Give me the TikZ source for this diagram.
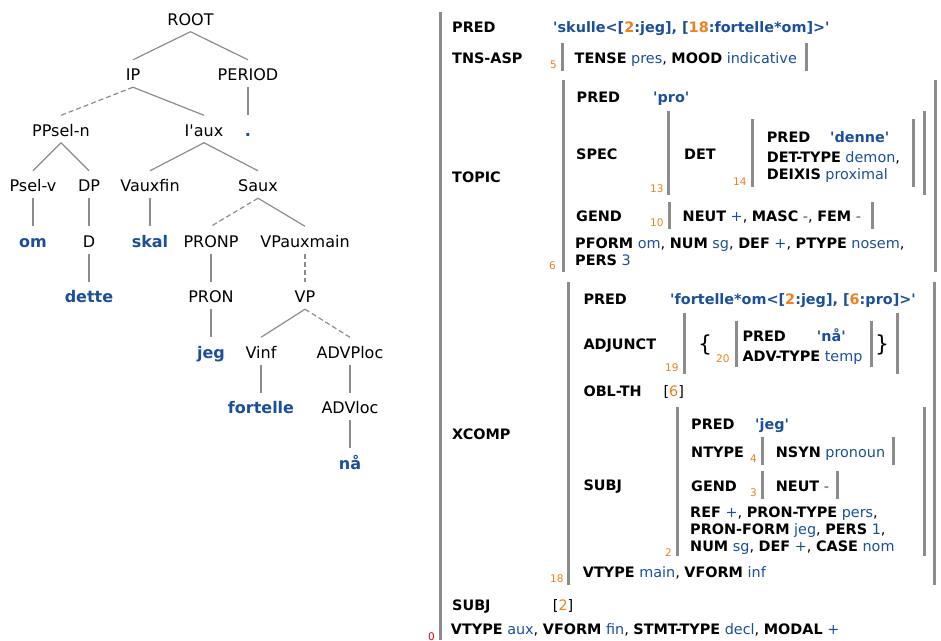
\documentclass[tikz,border=0pt]{standalone}
\usepackage{fontspec}
\setmainfont{DejaVu Sans}[Ligatures=TeXOff]
\usepackage{xcolor}
\usepackage{tikz}
\usetikzlibrary{positioning}

\definecolor{lfgblue}{HTML}{1B4F9C}
\definecolor{lfgorange}{HTML}{F07F1E}
\definecolor{lfggray}{HTML}{8C8C8C}
\definecolor{lfgred}{HTML}{E00000}

\newcommand{\fatt}[1]{\textbf{#1}}
\newcommand{\fval}[1]{\textcolor{lfgblue}{#1}}
\newcommand{\fsem}[1]{\textcolor{lfgblue}{\textbf{#1}}}
\newcommand{\fnum}[1]{\textcolor{lfgorange}{#1}}

\begin{document}
\begin{tikzpicture}[
	x = 1pt, y = -1pt,
	on grid,
	cat/.style = {inner xsep=0pt, inner ysep=6.15pt, text height=14.7pt, text depth=0pt, font=\fontsize{16}{19}\selectfont},
	word/.style = {cat, text=lfgblue, font=\fontsize{16}{19}\selectfont\bfseries},
	every edge/.style = {draw=lfggray, line width=1.2pt},
	elided/.style = {dash pattern=on 5pt off 3pt},
	fs/.style = {anchor=base west, inner sep=0pt, font=\fontsize{14.4}{17}\selectfont},
	idx/.style = {anchor=base west, inner sep=0pt, text=lfgorange, font=\fontsize{10.5}{12}\selectfont},
	brace/.style = {inner sep=0pt, font=\fontsize{22}{26}\selectfont},
	fbar/.style = {draw=lfggray, line width=3pt}
	]
	\useasboundingbox (0,0) rectangle (941,640);

	% c-structure
	\node[cat] (ROOT) at (190.5,18) {ROOT};
	\node[cat] (IP) [below left=55.5pt and 57.5pt of ROOT] {IP};
	\node[cat] (PERIOD) [below right=55.5pt and 57.5pt of ROOT] {PERIOD};
	\node[cat] (PPseln) [below left=55.5pt and 72pt of IP] {PPsel-n};
	\node[cat] (Iaux) [below right=55.5pt and 71pt of IP] {I'aux};
	\node[word] (dot) [below=55.5pt of PERIOD] {.};
	\node[cat] (Pselv) [below left=55.5pt and 28pt of PPseln] {Psel-v};
	\node[cat] (DP) [below right=55.5pt and 28pt of PPseln] {DP};
	\node[cat] (Vauxfin) [below left=55.5pt and 54pt of Iaux] {Vauxfin};
	\node[cat] (Saux) [below right=55.5pt and 54pt of Iaux] {Saux};
	\node[word] (om) [below=55.5pt of Pselv] {om};
	\node[cat] (D) [below=55.5pt of DP] {D};
	\node[word] (skal) [below=55.5pt of Vauxfin] {skal};
	\node[cat] (PRONP) [below left=55.5pt and 47pt of Saux] {PRONP};
	\node[cat] (VPauxmain) [below right=55.5pt and 47pt of Saux] {VPauxmain};
	\node[word] (dette) [below=55.5pt of D] {dette};
	\node[cat] (PRON) [below=55.5pt of PRONP] {PRON};
	\node[cat] (VP) [below=55.5pt of VPauxmain] {VP};
	\node[word] (jeg) [below=55.5pt of PRON] {jeg};
	\node[cat] (Vinf) [below left=55.5pt and 44pt of VP] {Vinf};
	\node[cat] (ADVPloc) [below right=55.5pt and 45pt of VP] {ADVPloc};
	\node[word] (fortelle) [below=55.5pt of Vinf] {fortelle};
	\node[cat] (ADVloc) [below=55.5pt of ADVPloc] {ADVloc};
	\node[word] (naa) [below=55.5pt of ADVloc] {nå};

	\path
	(ROOT.south) edge (IP.north)
	(ROOT.south) edge (PERIOD.north)
	(IP.south) edge[elided] (PPseln.north)
	(IP.south) edge (Iaux.north)
	(PERIOD.south) edge (dot.north)
	(PPseln.south) edge (Pselv.north)
	(PPseln.south) edge (DP.north)
	(Iaux.south) edge (Vauxfin.north)
	(Iaux.south) edge (Saux.north)
	(Pselv.south) edge (om.north)
	(DP.south) edge (D.north)
	(Vauxfin.south) edge (skal.north)
	(Saux.south) edge[elided] (PRONP.north)
	(Saux.south) edge (VPauxmain.north)
	(D.south) edge (dette.north)
	(PRONP.south) edge (PRON.north)
	(VPauxmain.south) edge[elided] (VP.north)
	(PRON.south) edge (jeg.north)
	(VP.south) edge (Vinf.north)
	(VP.south) edge[elided] (ADVPloc.north)
	(Vinf.south) edge (fortelle.north)
	(ADVPloc.south) edge (ADVloc.north)
	(ADVloc.south) edge (naa.north);

	% f-structure brackets
	\foreach \x/\ya/\yb in {440.5/11.7/640, 562/43/71, 806/43/71, 563/80/272, 935/80/272,
		668.5/111/195, 924/111/195, 752/119/187, 913/119/187, 669/201.7/229.3, 872.5/201.7/229.3,
		568.5/281.7/585, 934/281.7/585, 684.5/312.7/374, 897/312.7/374, 736/320.7/366.7, 871/320.7/366.7,
		677/407/556, 924.3/407/556, 762.5/437.3/465, 893.3/437.3/465, 762.5/470.7/499.3, 837.3/470.7/499.3}
		\draw[fbar] (\x,\ya) -- (\x,\yb);

	% outer f-structure
	\node[fs] (pred0) at (452,32.3) {\fatt{PRED}};
	\node[fs] (pred0v) at (553,32.3) {\fsem{'skulle<[\fnum{2}:jeg], [\fnum{18}:fortelle*om]>'}};
	\node[fs] (tns) at (452,63.3) {\fatt{TNS-ASP}};
	\node[idx] (i5) at (550,68) {5};
	\node[fs] (tnsv) at (574.5,63.3) {\fatt{TENSE} \fval{pres}, \fatt{MOOD} \fval{indicative}};

	% TOPIC
	\node[fs] (topic) at (452,182.3) {\fatt{TOPIC}};
	\node[idx] (i6) at (549,269.3) {6};
	\node[fs] (tpred) at (576.5,102.7) {\fatt{PRED}};
	\node[fs] (tpredv) at (653,102.7) {\fsem{'pro'}};
	\node[fs] (spec) at (576,159.3) {\fatt{SPEC}};
	\node[idx] (i13) at (650,192.7) {13};
	\node[fs] (det) at (684,159.3) {\fatt{DET}};
	\node[idx] (i14) at (733,185) {14};
	\node[fs] (dpred) at (766.7,142.7) {\fatt{PRED}};
	\node[fs] (dpredv) at (830,142.7) {\fsem{'denne'}};
	\node[fs] (dtype) at (766.7,162.7) {\fatt{DET-TYPE} \fval{demon},};
	\node[fs] (deixis) at (766.7,179.3) {\fatt{DEIXIS} \fval{proximal}};
	\node[fs] (tgend) at (576,221.7) {\fatt{GEND}};
	\node[idx] (i10) at (650,226) {10};
	\node[fs] (tgendv) at (682.5,221.7) {\fatt{NEUT} \fval{+}, \fatt{MASC} \fval{-}, \fatt{FEM} \fval{-}};
	\node[fs] (tfeat1) at (575,248.3) {\fatt{PFORM} \fval{om}, \fatt{NUM} \fval{sg}, \fatt{DEF} \fval{+}, \fatt{PTYPE} \fval{nosem},};
	\node[fs] (tfeat2) at (575,265) {\fatt{PERS} \fval{3}};

	% XCOMP
	\node[fs] (xcomp) at (452,439.3) {\fatt{XCOMP}};
	\node[idx] (i18) at (550,582.7) {18};
	\node[fs] (xpred) at (583.3,304.3) {\fatt{PRED}};
	\node[fs] (xpredv) at (670,304.3) {\fsem{'fortelle*om<[\fnum{2}:jeg], [\fnum{6}:pro]>'}};
	\node[fs] (adj) at (583.3,349.3) {\fatt{ADJUNCT}};
	\node[idx] (i19) at (665,371.7) {19};
	\node[brace] (lbr) at (705,345) {\{};
	\node[idx] (i20) at (716,362.7) {20};
	\node[fs] (apred) at (742.3,341.7) {\fatt{PRED}};
	\node[fs] (apredv) at (816.7,341.7) {\fsem{'nå'}};
	\node[fs] (atype) at (742.3,361.7) {\fatt{ADV-TYPE} \fval{temp}};
	\node[brace] (rbr) at (882,345) {\}};
	\node[fs] (obl) at (583.3,396) {\fatt{OBL-TH}};
	\node[fs] (oblv) at (663.3,396) {[\fnum{6}]};
	\node[fs] (xsubj) at (583.3,490) {\fatt{SUBJ}};
	\node[idx] (i2) at (665,556) {2};
	\node[fs] (spred) at (691,429.3) {\fatt{PRED}};
	\node[fs] (spredv) at (755,429.3) {\fsem{'jeg'}};
	\node[fs] (ntype) at (691,457.7) {\fatt{NTYPE}};
	\node[idx] (i4) at (750,462.7) {4};
	\node[fs] (ntypev) at (775.7,457.7) {\fatt{NSYN} \fval{pronoun}};
	\node[fs] (sgend) at (691,491) {\fatt{GEND}};
	\node[idx] (i3) at (750,496) {3};
	\node[fs] (sgendv) at (775.7,491) {\fatt{NEUT} \fval{-}};
	\node[fs] (sfeat1) at (690,517.7) {\fatt{REF} \fval{+}, \fatt{PRON-TYPE} \fval{pers},};
	\node[fs] (sfeat2) at (690,534.3) {\fatt{PRON-FORM} \fval{jeg}, \fatt{PERS} \fval{1},};
	\node[fs] (sfeat3) at (690,551.7) {\fatt{NUM} \fval{sg}, \fatt{DEF} \fval{+}, \fatt{CASE} \fval{nom}};
	\node[fs] (xfeat) at (582.7,577.7) {\fatt{VTYPE} \fval{main}, \fatt{VFORM} \fval{inf}};

	% remaining outer features
	\node[fs] (subj) at (452,610) {\fatt{SUBJ}};
	\node[fs] (subjv) at (552.7,610) {[\fnum{2}]};
	\node[fs] (feat0) at (450.7,634.3) {\fatt{VTYPE} \fval{aux}, \fatt{VFORM} \fval{fin}, \fatt{STMT-TYPE} \fval{decl}, \fatt{MODAL} \fval{+}};
	\node[idx, text=lfgred] (i0) at (428,640) {0};
\end{tikzpicture}
\end{document}
